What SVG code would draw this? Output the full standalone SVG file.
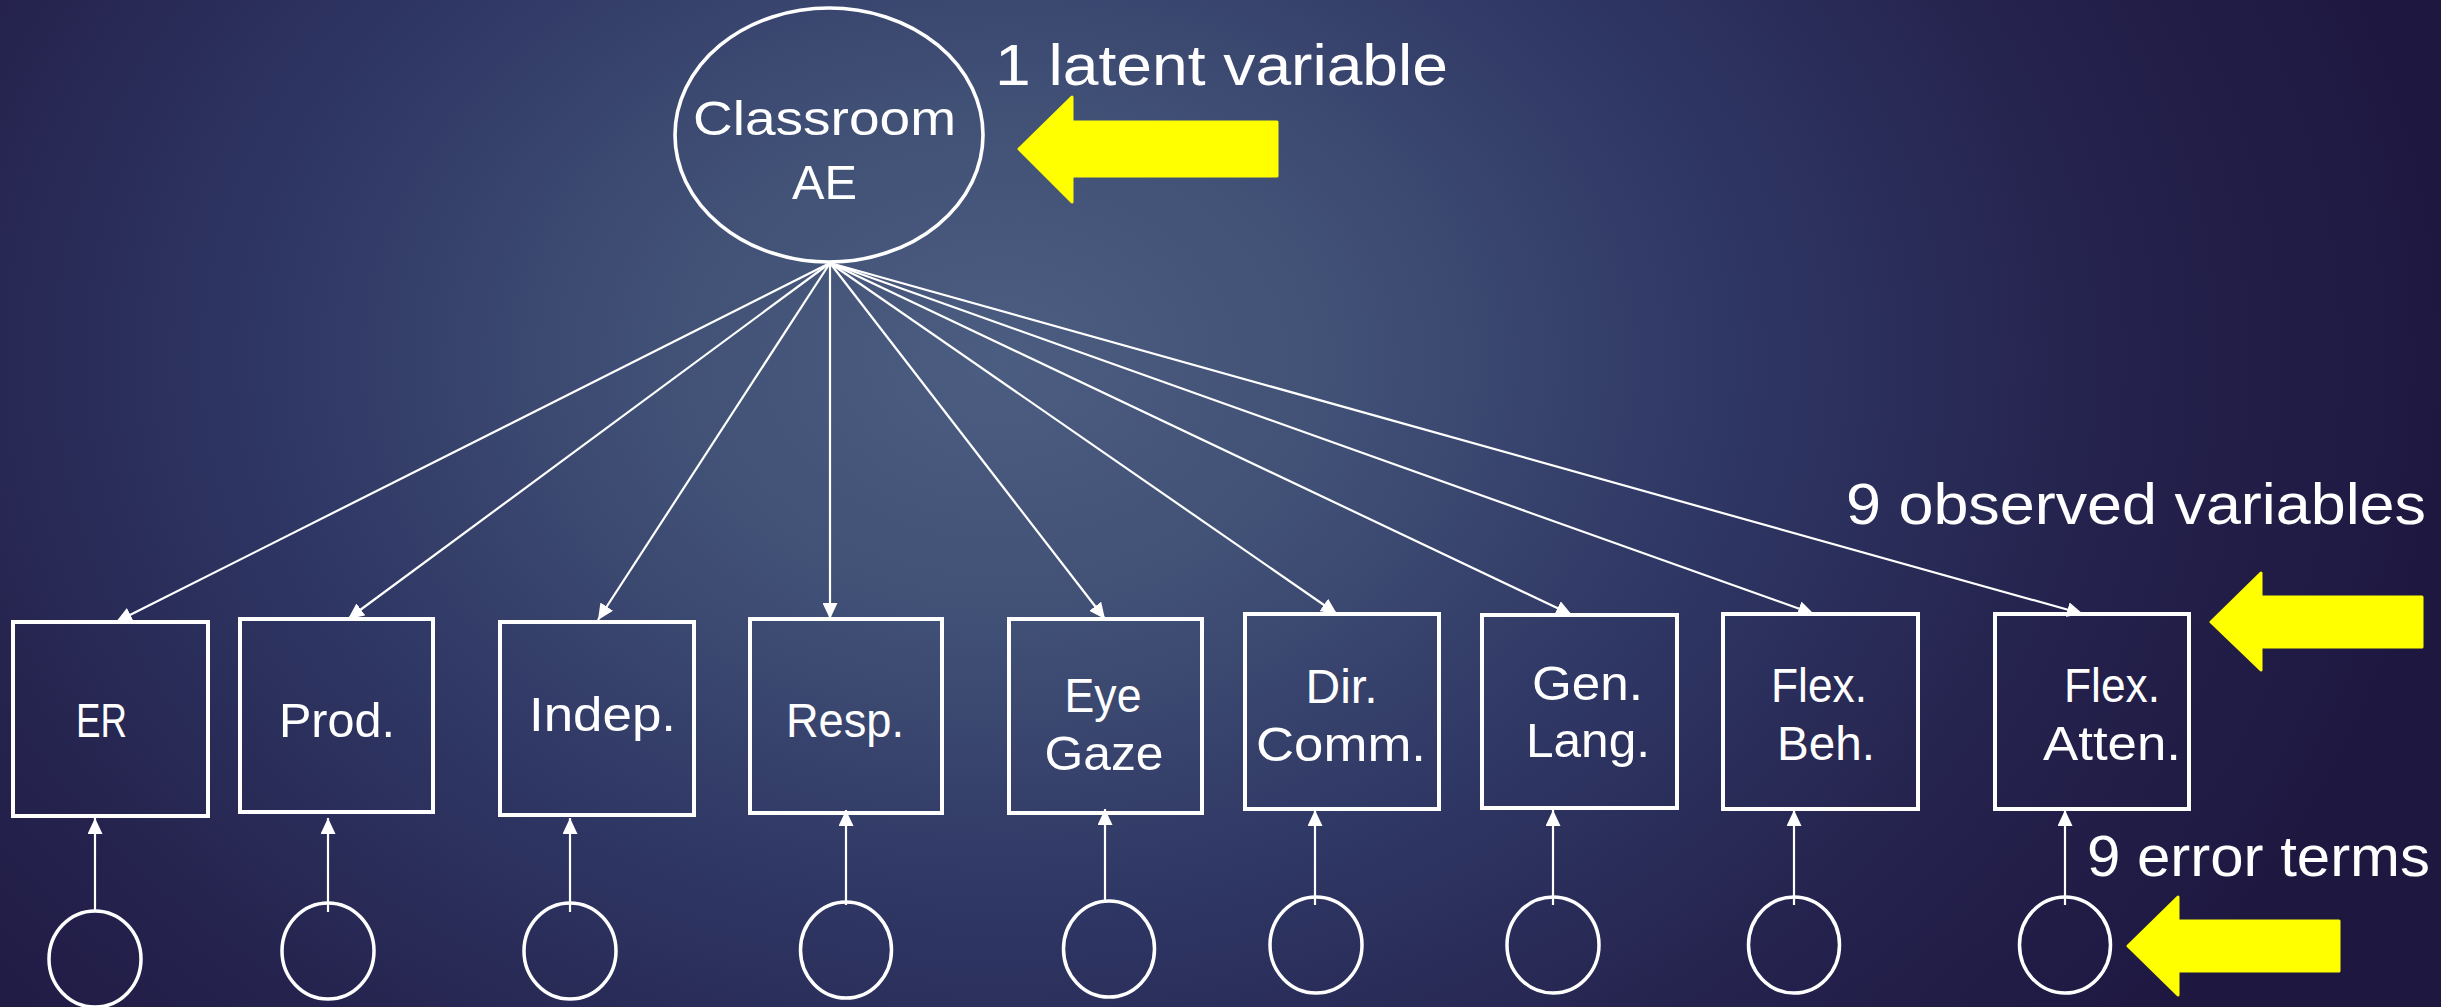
<svg xmlns="http://www.w3.org/2000/svg" width="2441" height="1007" viewBox="0 0 2441 1007">
  <defs>
    <radialGradient id="bg" cx="1000" cy="360" r="1450" gradientUnits="userSpaceOnUse" gradientTransform="translate(1000 360) scale(1 0.75) translate(-1000 -360)">
      <stop offset="0" stop-color="#4b5d80"/>
      <stop offset="0.22" stop-color="#425277"/>
      <stop offset="0.5" stop-color="#2f3764"/>
      <stop offset="0.78" stop-color="#24214c"/>
      <stop offset="1" stop-color="#1e1841"/>
    </radialGradient>
    <marker id="head" markerUnits="userSpaceOnUse" markerWidth="16" markerHeight="15" refX="16" refY="7.5" orient="auto">
      <path d="M0,0 L16,7.5 L0,15 Z" fill="#ffffff"/>
    </marker>
    <style>
      .box { fill: none; stroke: #ffffff; stroke-width: 4; }
      .err { fill: none; stroke: #ffffff; stroke-width: 3.5; }
      .latent { fill: none; stroke: #ffffff; stroke-width: 3.6; }
      .edge { fill: none; stroke: #ffffff; stroke-width: 2.2; marker-end: url(#head); }
      .lbl { fill: #ffffff; font-family: "Liberation Sans", Arial, sans-serif; font-size: 48px; text-anchor: middle; }
      .note { fill: #ffffff; font-family: "Liberation Sans", Arial, sans-serif; font-size: 58px; }
      .pointer { fill: #ffff00; stroke: #ffff00; stroke-width: 3; stroke-linejoin: round; }
    </style>
  </defs>

  <rect width="2441" height="1007" fill="url(#bg)"/>

  <!-- latent variable -->
  <g id="classroom-ae">
    <ellipse class="latent" cx="829" cy="135" rx="154" ry="127"/>
    <text class="lbl" x="824.5" y="135" font-size="53" textLength="263" lengthAdjust="spacingAndGlyphs">Classroom</text>
    <text class="lbl" x="824.5" y="199" font-size="53" textLength="65" lengthAdjust="spacingAndGlyphs">AE</text>
  </g>

  <!-- observed variables -->
  <g id="er">
    <rect class="box" x="13" y="622" width="195" height="194"/>
    <text class="lbl" x="101.5" y="737" textLength="51" lengthAdjust="spacingAndGlyphs">ER</text>
  </g>
  <g id="prod">
    <rect class="box" x="240" y="619" width="193" height="193"/>
    <text class="lbl" x="337" y="737" textLength="116" lengthAdjust="spacingAndGlyphs">Prod.</text>
  </g>
  <g id="indep">
    <rect class="box" x="500" y="622" width="194" height="193"/>
    <text class="lbl" x="602.5" y="731" textLength="147" lengthAdjust="spacingAndGlyphs">Indep.</text>
  </g>
  <g id="resp">
    <rect class="box" x="750" y="619" width="192" height="194"/>
    <text class="lbl" x="845" y="737" textLength="118" lengthAdjust="spacingAndGlyphs">Resp.</text>
  </g>
  <g id="eye-gaze">
    <rect class="box" x="1009" y="619" width="193" height="194"/>
    <text class="lbl" x="1103" y="712" textLength="77" lengthAdjust="spacingAndGlyphs">Eye</text>
    <text class="lbl" x="1104" y="770" textLength="119" lengthAdjust="spacingAndGlyphs">Gaze</text>
  </g>
  <g id="dir-comm">
    <rect class="box" x="1245" y="614" width="194" height="195"/>
    <text class="lbl" x="1341.5" y="703" textLength="72" lengthAdjust="spacingAndGlyphs">Dir.</text>
    <text class="lbl" x="1341" y="761" textLength="170" lengthAdjust="spacingAndGlyphs">Comm.</text>
  </g>
  <g id="gen-lang">
    <rect class="box" x="1482" y="615" width="195" height="193"/>
    <text class="lbl" x="1587.5" y="700" textLength="111" lengthAdjust="spacingAndGlyphs">Gen.</text>
    <text class="lbl" x="1588" y="757" textLength="124" lengthAdjust="spacingAndGlyphs">Lang.</text>
  </g>
  <g id="flex-beh">
    <rect class="box" x="1723" y="614" width="195" height="195"/>
    <text class="lbl" x="1819" y="702" textLength="96" lengthAdjust="spacingAndGlyphs">Flex.</text>
    <text class="lbl" x="1826" y="760" textLength="98" lengthAdjust="spacingAndGlyphs">Beh.</text>
  </g>
  <g id="flex-atten">
    <rect class="box" x="1995" y="614" width="194" height="195"/>
    <text class="lbl" x="2112" y="702" textLength="96" lengthAdjust="spacingAndGlyphs">Flex.</text>
    <text class="lbl" x="2112" y="760" textLength="138" lengthAdjust="spacingAndGlyphs">Atten.</text>
  </g>

  <!-- error terms -->
  <g id="e-er"><ellipse class="err" cx="95" cy="959" rx="46" ry="48"/></g>
  <g id="e-prod"><ellipse class="err" cx="328" cy="951" rx="46" ry="48"/></g>
  <g id="e-indep"><ellipse class="err" cx="570" cy="951" rx="46" ry="48"/></g>
  <g id="e-resp"><ellipse class="err" cx="846" cy="950" rx="45.5" ry="48"/></g>
  <g id="e-eye-gaze"><ellipse class="err" cx="1109" cy="949" rx="45.5" ry="48"/></g>
  <g id="e-dir-comm"><ellipse class="err" cx="1316" cy="945" rx="46" ry="48"/></g>
  <g id="e-gen-lang"><ellipse class="err" cx="1553" cy="945" rx="46" ry="48"/></g>
  <g id="e-flex-beh"><ellipse class="err" cx="1794" cy="945" rx="45.5" ry="48"/></g>
  <g id="e-flex-atten"><ellipse class="err" cx="2065" cy="945" rx="45.5" ry="48"/></g>

  <!-- loadings and error paths -->
  <g id="connectors">
    <line class="edge" x1="830" y1="263" x2="116" y2="622"/>
    <line class="edge" x1="830" y1="263" x2="348" y2="619"/>
    <line class="edge" x1="830" y1="263" x2="598" y2="620"/>
    <line class="edge" x1="830" y1="263" x2="830" y2="619"/>
    <line class="edge" x1="830" y1="263" x2="1105" y2="619"/>
    <line class="edge" x1="830" y1="263" x2="1337" y2="614"/>
    <line class="edge" x1="830" y1="263" x2="1572" y2="615"/>
    <line class="edge" x1="830" y1="263" x2="1814" y2="614"/>
    <line class="edge" x1="830" y1="263" x2="2083" y2="614"/>

    <line class="edge" x1="95" y1="912" x2="95" y2="818"/>
    <line class="edge" x1="328" y1="912" x2="328" y2="818"/>
    <line class="edge" x1="570" y1="912" x2="570" y2="818"/>
    <line class="edge" x1="846" y1="905" x2="846" y2="810"/>
    <line class="edge" x1="1105" y1="903" x2="1105" y2="809"/>
    <line class="edge" x1="1315" y1="905" x2="1315" y2="810"/>
    <line class="edge" x1="1553" y1="905" x2="1553" y2="810"/>
    <line class="edge" x1="1794" y1="905" x2="1794" y2="810"/>
    <line class="edge" x1="2065" y1="905" x2="2065" y2="810"/>
  </g>

  <!-- annotations -->
  <g id="annotations">
    <text class="note" x="995" y="85" textLength="453" lengthAdjust="spacingAndGlyphs">1 latent variable</text>
    <polygon class="pointer" points="1019,149 1072,97 1072,122 1277,122 1277,176 1072,176 1072,202"/>
    <text class="note" x="1846" y="524" font-size="57" textLength="580" lengthAdjust="spacingAndGlyphs">9 observed variables</text>
    <polygon class="pointer" points="2211,622 2261,573 2261,597 2422,597 2422,647 2261,647 2261,670"/>
    <text class="note" x="2087" y="876" font-size="57" textLength="343" lengthAdjust="spacingAndGlyphs">9 error terms</text>
    <polygon class="pointer" points="2128,946 2178,897 2178,921 2339,921 2339,971 2178,971 2178,995"/>
  </g>
</svg>
